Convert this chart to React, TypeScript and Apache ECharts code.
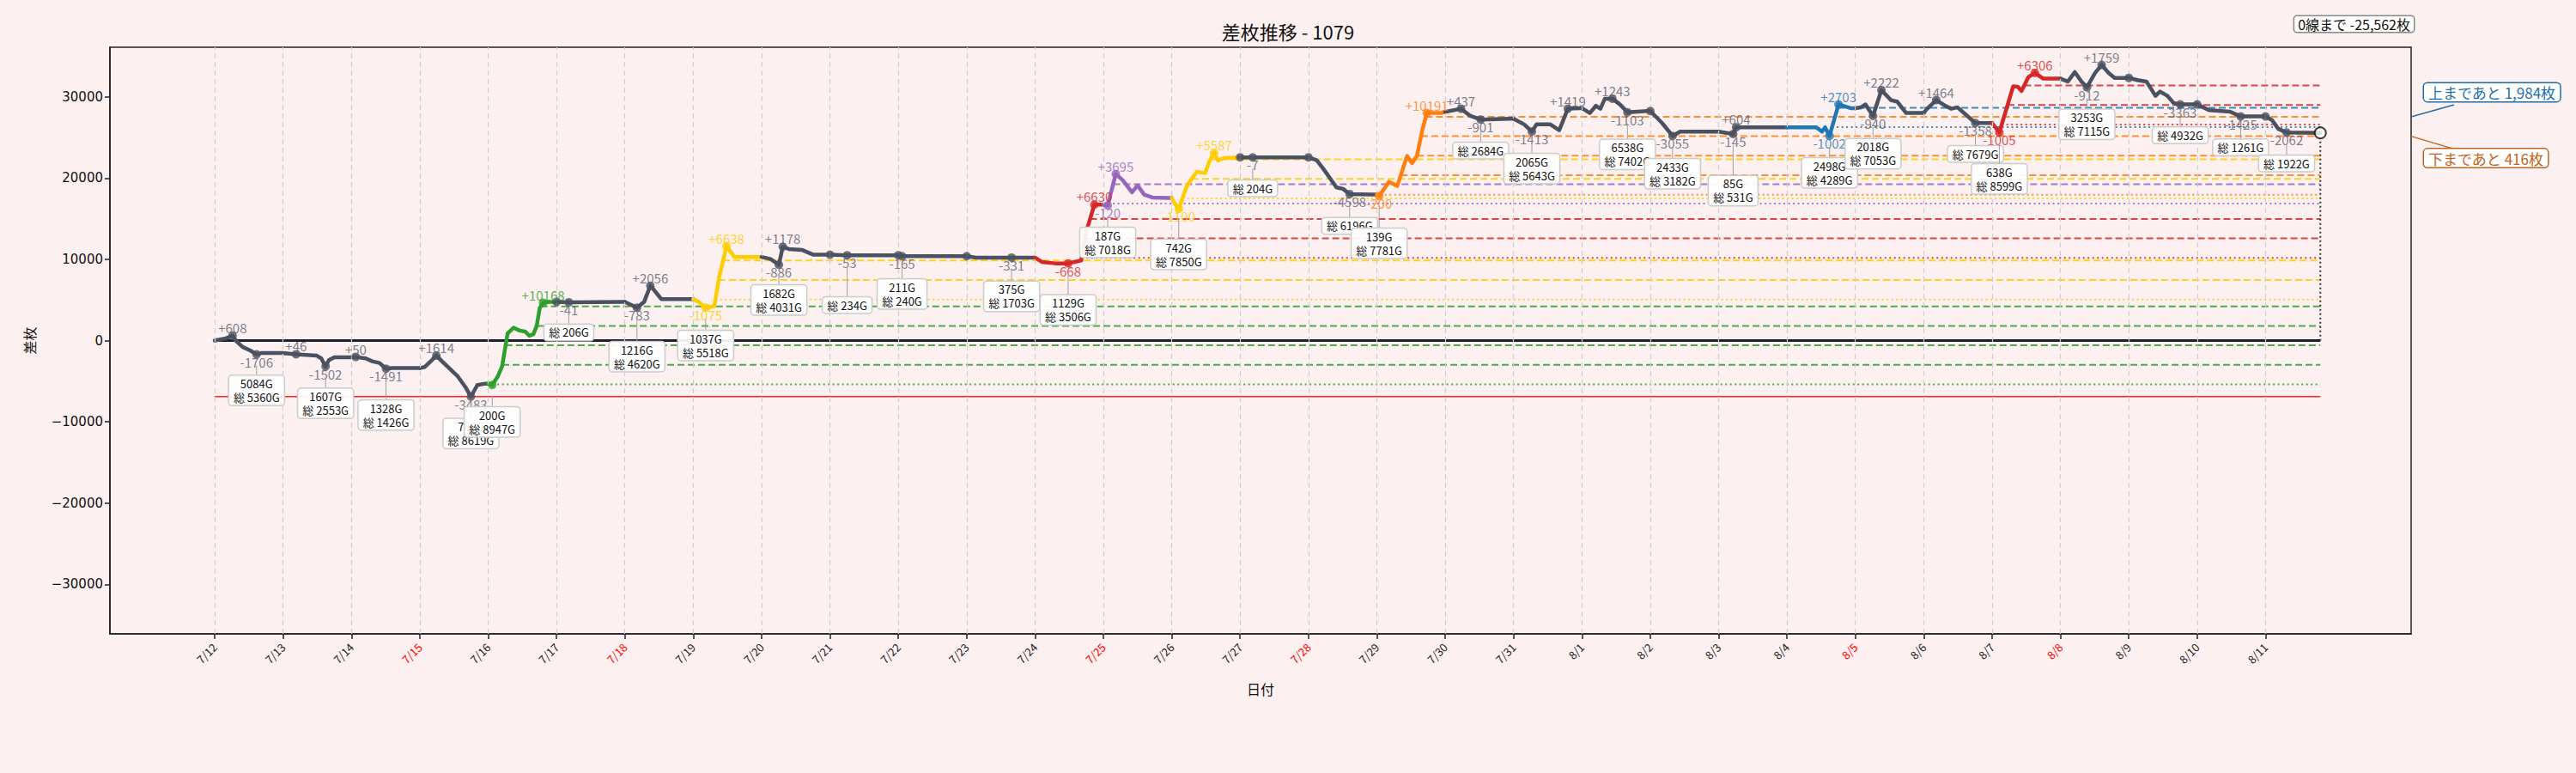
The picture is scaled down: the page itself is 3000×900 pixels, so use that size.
import React, { useEffect, useRef } from "react";
import * as echarts from "echarts";

// ---------- data ----------
const DATES = ["7/12","7/13","7/14","7/15","7/16","7/17","7/18","7/19","7/20","7/21","7/22","7/23","7/24","7/25","7/26","7/27","7/28","7/29","7/30","7/31","8/1","8/2","8/3","8/4","8/5","8/6","8/7","8/8","8/9","8/10","8/11"];
const EVENT_DATES = ["7/15","7/18","7/25","7/28","8/5","8/8"];
const DAY_COLOR_KEYS = ["gray","gray","gray","gray","green","gray","gray","yellow","gray","gray","gray","gray","red","purple","yellow","gray","gray","orange","gray","gray","gray","gray","gray","blue","gray","gray","red","gray","gray","gray","gray"];

// [day position, 差枚] per day
const DAY_POINTS: number[][][] = [
  [[0,0],[0.165,275],[0.261,608],[0.309,-10],[0.406,-780],[0.525,-1240],[0.612,-1700],[0.694,-1520],[0.959,-1520]],
  [[1.02,-1560],[1.19,-1680],[1.488,-1840],[1.559,-2190],[1.622,-3180],[1.67,-2400],[1.751,-2050],[1.992,-2050]],
  [[2.0,-2050],[2.064,-2020],[2.208,-2190],[2.304,-2550],[2.411,-2760],[2.506,-3460],[2.593,-3390],[2.953,-3390]],
  [[3.0,-3390],[3.074,-3245],[3.17,-2470],[3.242,-1840],[3.324,-2550],[3.555,-4410],[3.675,-5820],[3.748,-6900],[3.843,-5470],[3.964,-5300]],
  [[4.0,-5300],[4.059,-5470],[4.141,-4410],[4.204,-3180],[4.285,880],[4.372,1580],[4.459,1230],[4.54,1120],[4.603,590],[4.661,770],[4.709,1750],[4.756,4050],[4.805,4640],[4.901,4750]],
  [[5.0,4750],[5.18,4710],[5.946,4750]],
  [[6.0,4750],[6.177,4050],[6.281,4750],[6.373,6750],[6.449,5980],[6.533,5105],[6.951,5105]],
  [[7.0,5105],[7.077,4750],[7.182,4050],[7.308,4220],[7.378,7750],[7.487,11620],[7.601,10290],[7.956,10290]],
  [[8.0,10290],[8.132,10030],[8.253,9330],[8.31,11550],[8.397,11270],[8.589,11160],[8.758,10560],[8.98,10560]],
  [[9.0,10560],[9.252,10500],[9.96,10500]],
  [[10.0,10500],[10.055,10390],[10.97,10390]],
  [[11.0,10390],[11.137,10210],[11.657,10210],[11.955,10210]],
  [[12.0,10210],[12.099,9680],[12.291,9500],[12.484,9500],[12.676,9860],[12.748,13380],[12.868,16730]],
  [[13.0,16730],[13.063,16630],[13.181,20500],[13.284,19720],[13.418,18240],[13.5,19090],[13.597,17960],[13.716,17610],[13.957,17540]],
  [[14.0,17540],[14.029,17080],[14.102,16200],[14.221,19020],[14.366,20780],[14.486,20600],[14.558,22190],[14.62,23070],[14.678,22190],[14.774,22470],[14.967,22550]],
  [[15.0,22550],[15.184,22540],[15.97,22550]],
  [[16.0,22550],[16.121,22190],[16.218,21130],[16.41,18850],[16.505,18670],[16.602,18030],[16.938,17960]],
  [[17.0,17960],[17.034,17790],[17.178,19540],[17.299,19020],[17.442,22720],[17.515,21840],[17.587,22720],[17.66,25720],[17.731,28000],[17.947,28000]],
  [[18.0,28150],[18.231,28530],[18.369,27650],[18.519,27200],[18.947,27300]],
  [[19.0,27300],[19.155,26600],[19.268,25720],[19.335,26600],[19.539,26600],[19.668,25890],[19.794,28530],[19.958,28600]],
  [[20.0,28600],[20.116,28000],[20.204,28890],[20.27,28530],[20.336,29770],[20.446,29770],[20.557,29060],[20.666,28100],[20.96,28250]],
  [[21.0,28250],[21.173,26770],[21.326,25190],[21.437,25720],[21.966,25720]],
  [[22.0,25720],[22.212,25430],[22.256,26250],[22.961,26250]],
  [[23.0,26250],[23.424,26250],[23.513,25720],[23.557,26250],[23.622,25190],[23.754,29060],[23.931,28600]],
  [[24.0,28600],[24.082,28710],[24.147,29060],[24.258,27650],[24.381,30820],[24.522,29590],[24.61,29420],[24.743,28000],[24.94,28000]],
  [[25.0,28000],[25.03,28360],[25.183,29590],[25.316,28890],[25.404,28530],[25.492,28710],[25.756,26770],[25.934,26770]],
  [[26.0,26770],[26.106,25610],[26.309,31300],[26.374,31250],[26.432,30720],[26.529,32410],[26.626,32940],[26.749,32230],[26.97,32230]],
  [[27.0,32230],[27.109,31880],[27.211,33040],[27.308,31880],[27.387,31170],[27.507,32940],[27.603,33920],[27.705,32940],[27.793,32330]],
  [[28.0,32330],[28.126,32060],[28.258,31880],[28.39,30110],[28.457,30640],[28.566,30110],[28.655,29240],[28.752,29060],[28.97,29060]],
  [[29.0,29060],[29.172,28360],[29.481,28180],[29.636,27580],[29.95,27580]],
  [[30.0,27580],[30.097,27120],[30.185,26070],[30.308,25600],[30.802,25562]],
];

// marked points: [day index, position, 差枚, label]
const MARKS: [number, number, number, string][] = [
  [0,0.261,608,"+608"],[0,0.612,-1700,"-1706"],
  [1,1.19,-1680,"+46"],[1,1.622,-3180,"-1502"],
  [2,2.064,-2020,"+50"],[2,2.506,-3460,"-1491"],
  [3,3.242,-1840,"+1614"],[3,3.748,-6900,"-3483"],
  [4,4.059,-5470,""],[4,4.805,4640,"+10168"],
  [5,5.0,4750,""],[5,5.18,4710,"-41"],
  [6,6.177,4050,"-783"],[6,6.373,6750,"+2056"],
  [7,7.182,4050,"-1075"],[7,7.487,11620,"+6638"],
  [8,8.253,9330,"-886"],[8,8.31,11550,"+1178"],
  [9,9.0,10560,""],[9,9.252,10500,"-53"],
  [10,10.0,10500,""],[10,10.055,10390,"-165"],
  [11,11.0,10390,""],[11,11.657,10210,"-331"],
  [12,12.484,9500,"-668"],[12,12.868,16730,"+6630"],
  [13,13.063,16630,"-120"],[13,13.181,20500,"+3695"],
  [14,14.102,16200,"-1100"],[14,14.62,23070,"+5587"],
  [15,15.0,22550,""],[15,15.184,22540,"-7"],
  [16,16.0,22550,""],[16,16.602,18030,"-4598"],
  [17,17.034,17790,"-200"],[17,17.731,28000,"+10191"],
  [18,18.231,28530,"+437"],[18,18.519,27200,"-901"],
  [19,19.268,25720,"-1413"],[19,19.794,28530,"+1419"],
  [20,20.446,29770,"+1243"],[20,20.666,28100,"-1103"],
  [21,21.0,28250,""],[21,21.326,25190,"-3055"],
  [22,22.212,25430,"-145"],[22,22.256,26250,"+604"],
  [23,23.622,25190,"-1002"],[23,23.754,29060,"+2703"],
  [24,24.258,27650,"-940"],[24,24.381,30820,"+2222"],
  [25,25.183,29590,"+1464"],[25,25.756,26770,"-1358"],
  [26,26.106,25610,"-1005"],[26,26.626,32940,"+6306"],
  [27,27.387,31170,"-912"],[27,27.603,33920,"+1759"],
  [28,28.0,32330,""],[28,28.752,29060,"-3363"],
  [29,29.0,29060,""],[29,29.636,27580,"-1425"],
  [30,30.0,27580,""],[30,30.308,25600,"-2062"],
];

// boxes under lows: [mark index, games at low (0 = none), total games]
const BOXES: [number, number, number][] = [
  [1,5084,5360],[3,1607,2553],[5,1328,1426],[7,763,8619],[8,200,8947],[11,0,206],[12,1216,4620],
  [14,1037,5518],[16,1682,4031],[19,0,234],[21,211,240],[23,375,1703],[24,1129,3506],[26,187,7018],
  [28,742,7850],[31,0,204],[33,0,6196],[34,139,7781],[37,0,2684],[38,2065,5643],[41,6538,7402],
  [43,2433,3182],[44,85,531],[46,2498,4289],[48,2018,7053],[51,0,7679],[52,638,8599],[54,3253,7115],
  [57,0,4932],[59,0,1261],[61,0,1922],
];

// horizontal levels from the coloured days (first of each day = start level, dotted)
const LEVEL_DAYS = [4,4,4,4,4, 7,7,7, 12,12,12, 13,13, 14,14,14, 17,17,17,17,17, 23,23, 26,26,26];
const LEVEL_VALUES = [-5390,-2990,-590,1810,4210, 5050,7450,9850, 10170,12570,14970, 16850,19250, 17500,19900,22300, 17946,20346,22746,25146,27546, 26280,28650, 26590,28990,31390];

const FINAL_VALUE = 25562;
const MIN_LEVEL = -6900;
const UPPER_LEVEL = 27546;
const LOWER_LEVEL = 25146;
const Y_TICKS = [-30000,-20000,-10000,0,10000,20000,30000];

// ---------- layout / style ----------
const BOX_DROP = [25,26,37,26,26,26,40,27,24,49,27,28,37,26,36,27,28,38,27,26,32,27,49,26,27,27,37,26,27,27,27];
const X_MIN = -1.533, X_MAX = 32.13, Y_MIN = -36100, Y_MAX = 36100;
const PALETTE: Record<string, string> = {
  gray: "#4a5160", green: "#2ca02c", yellow: "#ffcc00", red: "#d62728",
  purple: "#9467bd", orange: "#ff7f0e", blue: "#1f77b4",
};
const LABEL_GRAY = "#5a6170";
const BG = "#fdf0f0";
const JP = '"Noto Sans CJK JP"';

function crossX(pts: number[][], L: number): number {
  for (let i = 1; i < pts.length; i++) {
    const [x0, v0] = pts[i - 1];
    const [x1, v1] = pts[i];
    if (v0 < L && v1 >= L) return x0 + ((L - v0) / (v1 - v0)) * (x1 - x0);
  }
  return pts[0][0];
}

export default function App() {
  const ref = useRef<HTMLDivElement>(null);
  useEffect(() => {
    document.body.style.margin = "0";
    const chart = echarts.init(ref.current!, null, { renderer: "svg" });
    const lastDay = DAY_POINTS[DAY_POINTS.length - 1];
    const finalX = lastDay[lastDay.length - 1][0];

    const series: any[] = [];

    // vertical grid + zero line
    series.push({
      type: "line", z: 1, silent: true, symbol: "none",
      data: [[0, 0], [finalX, 0]],
      lineStyle: { color: "#1b2030", width: 3 },
      markLine: {
        silent: true, symbol: "none", label: { show: false },
        lineStyle: { type: [6, 4], color: "#cfcfcf", width: 1.2 },
        data: DATES.map((_, i) => ({ xAxis: i })),
      },
    });
    // min line
    series.push({
      type: "line", z: 3, silent: true, symbol: "none",
      data: [[0, MIN_LEVEL], [finalX, MIN_LEVEL]],
      lineStyle: { color: "#ff2020", width: 1.5 },
    });
    // levels
    LEVEL_VALUES.forEach((L, i) => {
      const day = LEVEL_DAYS[i];
      const first = i === 0 || LEVEL_DAYS[i - 1] !== day;
      const pts = DAY_POINTS[day];
      const x0 = crossX(pts, L);
      series.push({
        type: "line", z: 2, silent: true, symbol: "none",
        data: [[x0, L], [finalX, L]],
        lineStyle: {
          color: PALETTE[DAY_COLOR_KEYS[day]], width: 2, opacity: 0.85,
          type: first ? [2, 3.5] : [8, 4],
        },
      });
    });
    // final vertical dotted
    series.push({
      type: "line", z: 3, silent: true, symbol: "none",
      data: [[finalX, FINAL_VALUE], [finalX, 0]],
      lineStyle: { color: "#333", width: 2, type: [2, 3] },
    });
    // day lines
    DAY_POINTS.forEach((pts, d) => {
      const data = pts.slice();
      if (d + 1 < DAY_POINTS.length) data.push(DAY_POINTS[d + 1][0]);
      series.push({
        type: "line", z: 4, silent: true, symbol: "none",
        data,
        lineStyle: { color: PALETTE[DAY_COLOR_KEYS[d]], width: 4.5, cap: "round", join: "round" },
      });
    });
    // dots with labels
    series.push({
      type: "scatter", z: 5, symbolSize: 10, silent: true,
      data: MARKS.map(([d, x, v, label]) => {
        const key = DAY_COLOR_KEYS[d];
        const col = PALETTE[key];
        const pos = label.startsWith("+");
        return {
          value: [x, v],
          itemStyle: { color: col },
          label: {
            show: label !== "",
            formatter: label,
            position: pos ? "top" : "bottom",
            distance: 0,
            offset: pos ? [0, 3] : [0, -4],
            color: key === "gray" ? LABEL_GRAY : col,
            fontSize: 15,
            fontFamily: JP,
          },
        };
      }),
    });
    // boxes under lows
    series.push({
      type: "custom", z: 6, silent: true,
      data: BOXES.map(([m]) => [MARKS[m][1], MARKS[m][2]]),
      renderItem: (params: any, api: any) => {
        const i = params.dataIndex;
        const p = api.coord([api.value(0), api.value(1)]);
        const drop = BOX_DROP[i];
        const [, g, tot] = BOXES[i];
        const text = g ? `${g}G\n総 ${tot}G` : `総 ${tot}G`;
        return {
          type: "group",
          children: [
            { type: "line", shape: { x1: p[0], y1: p[1] + 13, x2: p[0], y2: p[1] + drop }, style: { stroke: "#a0a0a0", lineWidth: 1 } },
            {
              type: "text", x: p[0], y: p[1] + drop,
              style: {
                text, align: "center", verticalAlign: "top", fill: "#111",
                font: `13px ${JP}`, lineHeight: 16,
                backgroundColor: "rgba(255,255,255,0.92)", borderColor: "#cccccc",
                borderWidth: 1.5, borderRadius: 3, padding: [1, 5],
              },
            },
          ],
        };
      },
    });
    // final point
    series.push({
      type: "scatter", z: 7, silent: true, symbolSize: 13,
      data: [[finalX, FINAL_VALUE]],
      itemStyle: { color: "#ffffff", borderColor: "#111", borderWidth: 2 },
    });

    const dayIdx = DATES.map((_, i) => i);
    chart.setOption({
      animation: false,
      backgroundColor: BG,
      title: {
        text: "差枚推移 - 1079", left: "center", top: 20,
        textStyle: { fontSize: 22, fontWeight: "normal", fontFamily: JP, color: "#111" },
      },
      grid: { left: 128, right: 192, top: 55, bottom: 162, show: true, borderColor: "#222", borderWidth: 1.5, backgroundColor: "transparent" },
      xAxis: {
        type: "value", min: X_MIN, max: X_MAX,
        axisLine: { show: true, onZero: false, lineStyle: { color: "#222", width: 1.5 } },
        axisTick: { show: true, customValues: dayIdx, length: 6, lineStyle: { color: "#222", width: 1.5 } },
        axisLabel: {
          customValues: dayIdx, rotate: 45, margin: 13,
          formatter: (v: number) => {
            const s = DATES[Math.round(v)] ?? "";
            return EVENT_DATES.includes(s) ? `{r|${s}}` : `{k|${s}}`;
          },
          rich: {
            r: { color: "#ff0000", fontSize: 13, fontFamily: JP },
            k: { color: "#222", fontSize: 13, fontFamily: JP },
          },
        },
        splitLine: { show: false },
        name: "日付", nameLocation: "middle", nameGap: 56,
        nameTextStyle: { fontSize: 16, color: "#111", fontFamily: JP },
      },
      yAxis: {
        type: "value", min: Y_MIN, max: Y_MAX,
        axisLine: { show: true, onZero: false, lineStyle: { color: "#222", width: 1.5 } },
        axisTick: { show: true, customValues: Y_TICKS, length: 6, lineStyle: { color: "#222", width: 1.5 } },
        axisLabel: {
          customValues: Y_TICKS, margin: 8, fontSize: 15, fontFamily: "DejaVu Sans", color: "#111",
          formatter: (v: number) => (v < 0 ? "\u2212" + Math.abs(v) : String(v)),
        },
        splitLine: { show: false },
        name: "差枚", nameLocation: "middle", nameGap: 86, nameRotate: 90,
        nameTextStyle: { fontSize: 16, color: "#111", fontFamily: JP },
      },
      series,
    });

    const toPx = (x: number, v: number) => chart.convertToPixel({ xAxisIndex: 0, yAxisIndex: 0 }, [x, v]) as number[];
    const xr = toPx(X_MAX, 0)[0];
    const yUp = toPx(X_MAX, UPPER_LEVEL)[1];
    const yDown = toPx(X_MAX, LOWER_LEVEL)[1];
    const yTop = toPx(X_MAX, Y_MAX)[1];
    const fmt = (n: number) => n.toLocaleString("en-US");
    const UP_COLOR = "#1f6fab";
    const DOWN_COLOR = "#bf6420";
    chart.setOption({
      graphic: [
        {
          type: "text", x: xr + 3, y: yTop - 36, z: 10,
          style: {
            text: `0線まで ${fmt(-FINAL_VALUE)}枚`, align: "right", verticalAlign: "top",
            fill: "#111", font: `16px ${JP}`, backgroundColor: "#ffffff",
            borderColor: "#888", borderWidth: 1.5, borderRadius: 3, padding: [1, 4],
          },
        },
        { type: "line", z: 10, shape: { x1: xr, y1: yUp, x2: xr + 50, y2: yUp - 14 }, style: { stroke: UP_COLOR, lineWidth: 1.5 } },
        {
          type: "text", x: xr + 15, y: yUp - 39, z: 11,
          style: {
            text: `上まであと ${fmt(UPPER_LEVEL - FINAL_VALUE)}枚`, verticalAlign: "top",
            fill: UP_COLOR, font: `17px ${JP}`, backgroundColor: "#ffffff",
            borderColor: UP_COLOR, borderWidth: 1.5, borderRadius: 4, padding: [2, 5],
          },
        },
        { type: "line", z: 10, shape: { x1: xr, y1: yDown, x2: xr + 47, y2: yDown + 14 }, style: { stroke: DOWN_COLOR, lineWidth: 1.5 } },
        {
          type: "text", x: xr + 15, y: yDown + 15, z: 11,
          style: {
            text: `下まであと ${fmt(FINAL_VALUE - LOWER_LEVEL)}枚`, verticalAlign: "top",
            fill: DOWN_COLOR, font: `17px ${JP}`, backgroundColor: "#ffffff",
            borderColor: DOWN_COLOR, borderWidth: 1.5, borderRadius: 4, padding: [2, 5],
          },
        },
      ],
    });

    return () => chart.dispose();
  }, []);
  return <div ref={ref} style={{ width: 3000, height: 900 }} />;
}
